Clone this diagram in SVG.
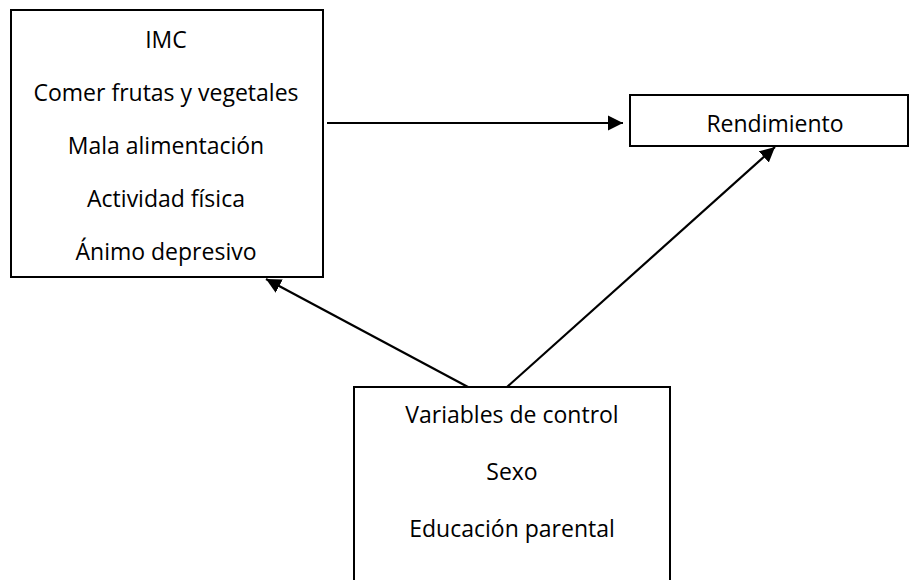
<svg xmlns="http://www.w3.org/2000/svg" width="910" height="580" viewBox="0 0 910 580">
  <style>
    .box { fill: #ffffff; stroke: #000000; stroke-width: 2; }
    .lbl { font-family: "Open Sans", "Liberation Sans", sans-serif; font-size: 23px; fill: #000000; text-anchor: middle; }
    .edge { stroke: #000000; stroke-width: 2.2; fill: none; marker-end: url(#head); }
  </style>
  <defs>
    <marker id="head" markerUnits="userSpaceOnUse" markerWidth="16" markerHeight="16" viewBox="0 0 16 16" refX="15" refY="8" orient="auto">
      <path d="M0,0.5 L15,8 L0,15.5 Z" fill="#000000"/>
    </marker>
  </defs>

  <g id="predictores">
    <rect class="box" x="11" y="10" width="312" height="267"/>
    <text class="lbl" x="166" y="48">IMC</text>
    <text class="lbl" x="166" y="101">Comer frutas y vegetales</text>
    <text class="lbl" x="166" y="154">Mala alimentación</text>
    <text class="lbl" x="166" y="207">Actividad física</text>
    <text class="lbl" x="166" y="260">Ánimo depresivo</text>
  </g>

  <g id="rendimiento">
    <rect class="box" x="630" y="95" width="278" height="51"/>
    <text class="lbl" x="775" y="132">Rendimiento</text>
  </g>

  <g id="control">
    <rect class="box" x="354" y="387" width="316" height="200"/>
    <text class="lbl" x="512" y="423">Variables de control</text>
    <text class="lbl" x="512" y="480">Sexo</text>
    <text class="lbl" x="512" y="537">Educación parental</text>
  </g>

  <g id="connectors">
    <line class="edge" x1="327" y1="123" x2="623" y2="123"/>
    <line class="edge" x1="468" y1="387" x2="266" y2="279"/>
    <line class="edge" x1="507" y1="387" x2="775" y2="147"/>
  </g>
</svg>
